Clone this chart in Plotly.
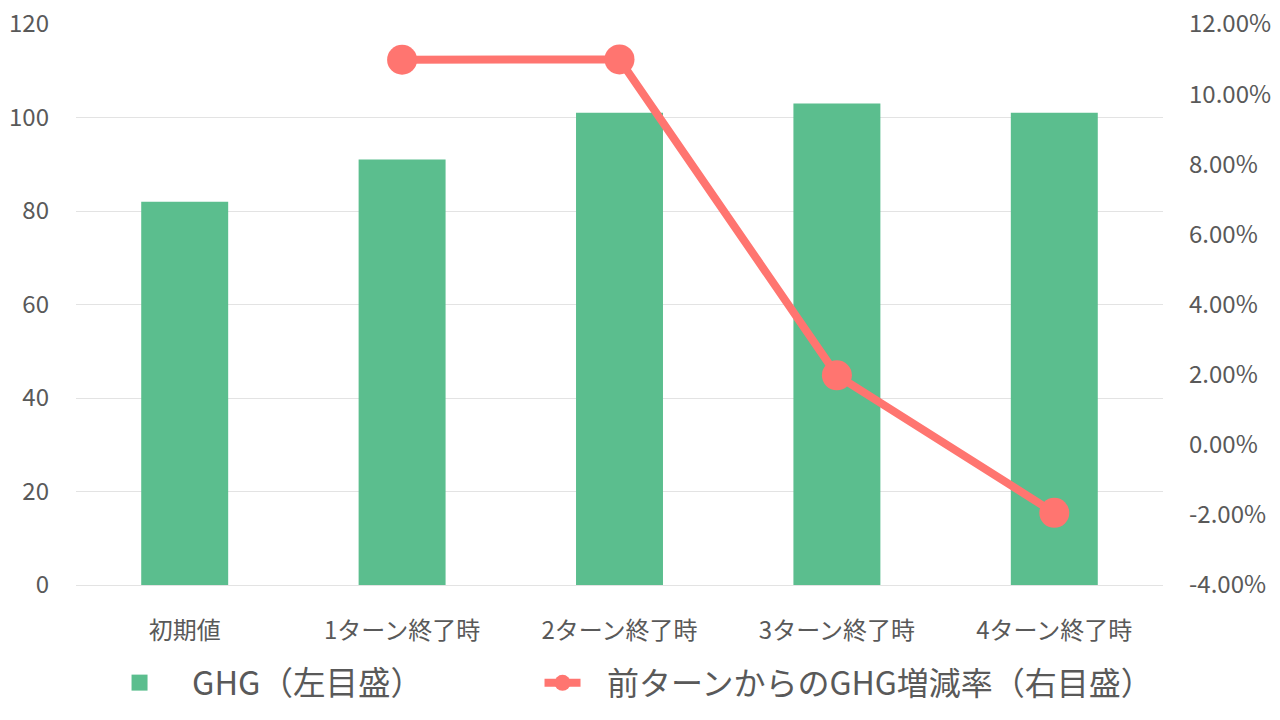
import plotly.graph_objects as go

categories = ["初期値", "1ターン終了時", "2ターン終了時", "3ターン終了時", "4ターン終了時"]
ghg = [82, 91, 101, 103, 101]
rate_categories = ["1ターン終了時", "2ターン終了時", "3ターン終了時", "4ターン終了時"]
rate = [0.1098, 0.1099, 0.0198, -0.0194]

left_ticks = [0, 20, 40, 60, 80, 100, 120]
right_ticks = [-0.04, -0.02, 0.0, 0.02, 0.04, 0.06, 0.08, 0.10, 0.12]
right_labels = [f"{v * 100:.2f}%" for v in right_ticks]

GREEN = "#5BBE8E"
RED = "#FF7570"
TEXT = "#595959"
GRID = "#E3E3E3"
FONT = "Noto Sans CJK JP"

fig = go.Figure()

fig.add_trace(go.Bar(
    x=categories, y=ghg, name="GHG（左目盛）",
    marker=dict(color=GREEN, line=dict(width=0)),
    width=0.4, showlegend=False,
))
# legend swatch for the bars (bigger square than plotly's default bar swatch)
fig.add_trace(go.Scatter(
    x=[None], y=[None], mode="markers", name="GHG（左目盛）",
    marker=dict(symbol="square", size=18, color=GREEN),
    legend="legend",
))
fig.add_trace(go.Scatter(
    x=rate_categories, y=rate,
    # nbsp padding: gap between the swatch and the label
    name="\u00a0\u00a0\u00a0前ターンからのGHG増減率（右目盛）",
    mode="lines+markers", yaxis="y2",
    line=dict(color=RED, width=8),
    marker=dict(color=RED, size=30),
    legend="legend2",
))

fig.update_layout(
    width=1280, height=720,
    margin=dict(l=76, r=117, t=24, b=135),
    paper_bgcolor="white", plot_bgcolor="white",
    font=dict(family=FONT, color=TEXT, size=24),
    xaxis=dict(
        categoryorder="array", categoryarray=categories,
        showgrid=False, showline=True, linecolor=GRID, linewidth=1,
        ticks="", ticklabelstandoff=24, automargin=False,
    ),
    yaxis=dict(
        range=[0, 120], tickvals=left_ticks,
        showgrid=True, gridcolor=GRID, gridwidth=1,
        zeroline=False, ticks="", ticklabelstandoff=26, automargin=False,
        ticklabeloverflow="allow",
    ),
    yaxis2=dict(
        overlaying="y", side="right", range=[-0.04, 0.12],
        tickvals=right_ticks, ticktext=right_labels,
        showgrid=False, zeroline=False, ticks="", ticklabelstandoff=25,
        automargin=False, ticklabeloverflow="allow",
    ),
    legend=dict(
        orientation="h", xref="container", yref="container",
        x=0.068, y=0.0514, xanchor="left", yanchor="middle",
        font=dict(size=32.5, color=TEXT), itemwidth=95,
    ),
    legend2=dict(
        orientation="h", xref="container", yref="container",
        x=0.4215, y=0.0514, xanchor="left", yanchor="middle",
        font=dict(size=32, color=TEXT), itemwidth=36,
    ),
)

# drop the default 8px body margin so the figure fills the window
fig.write_html(
    "out.html",
    config={"displayModeBar": False},
    post_script="document.body.style.margin = '0';",
)
